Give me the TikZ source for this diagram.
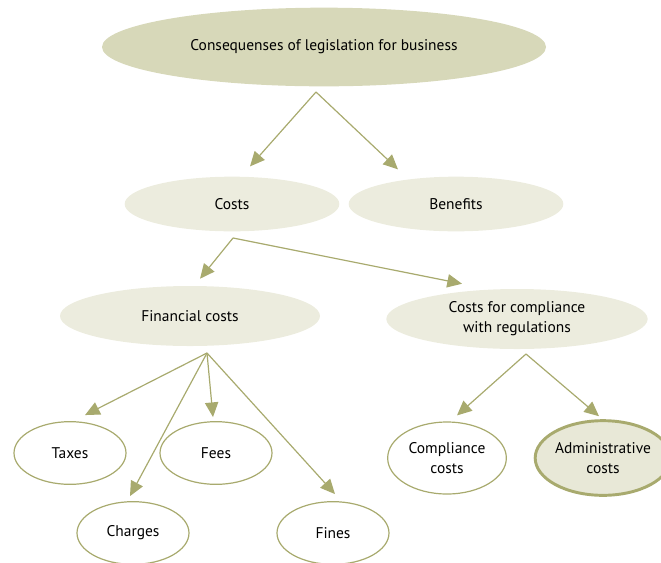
\documentclass[tikz,border=0pt]{standalone}
\usepackage{fontspec}
\setmainfont{PT Sans}
\usetikzlibrary{shapes.geometric,arrows.meta}
\definecolor{olive}{RGB}{168,170,110}
\definecolor{darkfill}{RGB}{215,216,185}
\definecolor{lightfill}{RGB}{236,236,222}
\definecolor{adminfill}{RGB}{232,232,215}
\begin{document}
\begin{tikzpicture}[x=0.75pt, y=-0.75pt, font=\fontsize{11.6}{15}\selectfont]
        \tikzstyle{oval} = [ellipse, inner sep=0pt, align=center]
        \tikzstyle{leaf} = [oval, draw=olive, line width=0.9pt, fill=white, minimum width=84pt, minimum height=47pt]
        \tikzstyle{arr} = [draw, olive, line width=0.9pt, -{Triangle[length=11pt, width=10pt]}]
        
        \useasboundingbox (0, 0) rectangle (661, 562);
        
        \node[oval, fill=darkfill, minimum width=333pt, minimum height=59pt] (consequences) at (324, 47) {Consequenses of legislation for business};
        \node[oval, fill=lightfill, minimum width=161pt, minimum height=41pt] (costs) at (232, 204) {Costs};
        \node[oval, fill=lightfill, minimum width=161pt, minimum height=41pt] (benefits) at (456, 204) {Benefits};
        \node[oval, fill=lightfill, minimum width=195pt, minimum height=45pt] (financial) at (190, 316) {Financial costs};
        \node[oval, fill=lightfill, minimum width=196pt, minimum height=45pt] (compliance) at (517, 319) {Costs for compliance\\with regulations};
        \node[leaf] (taxes) at (70, 453) {Taxes};
        \node[leaf] (fees) at (216, 453) {Fees};
        \node[leaf] (charges) at (133, 533) {Charges};
        \node[leaf] (fines) at (333, 533) {Fines};
        \node[leaf, minimum width=89pt, minimum height=54pt] (compliance costs) at (447, 458) {Compliance\\costs};
        \node[leaf, line width=2.2pt, fill=adminfill, minimum width=89pt, minimum height=56pt] (admin costs) at (603, 458) {Administrative\\costs};
        
        \coordinate (top fork) at (316, 92);
        \coordinate (costs fork) at (233, 238);
        \coordinate (financial fork) at (207, 353);
        \coordinate (compliance fork) at (526, 354);
        
        \path[arr] (top fork) to ([shift={(18,-10)}]costs.north);
        \path[arr] (top fork) to ([shift={(-58,-7)}]benefits.north);
        \path[arr] (costs fork) to ([shift={(10,-7)}]financial.north);
        \path[arr] (costs fork) to ([shift={(-55,-5)}]compliance.north);
        \path[arr] (financial fork) to ([shift={(15,-6)}]taxes.north);
        \path[arr] (financial fork) to ([shift={(-3,-5)}]charges.north);
        \path[arr] (financial fork) to ([shift={(-3,-4)}]fees.north);
        \path[arr] (financial fork) to ([shift={(2,-7)}]fines.north);
        \path[arr] (compliance fork) to ([shift={(10,-6)}]compliance costs.north);
        \path[arr] (compliance fork) to ([shift={(-4,-3)}]admin costs.north);
    \end{tikzpicture}
\end{document}
